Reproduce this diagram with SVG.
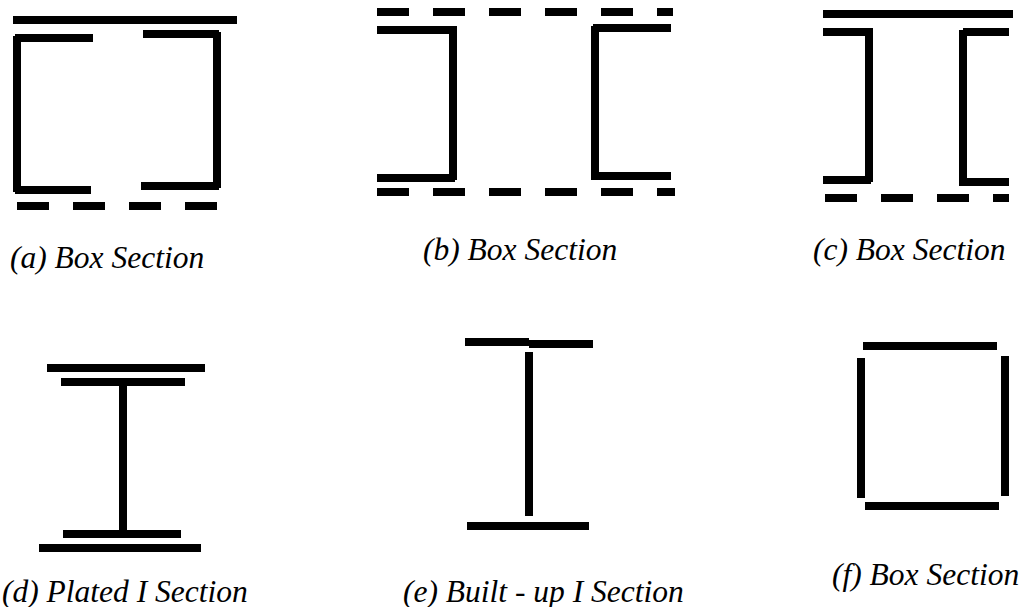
<svg xmlns="http://www.w3.org/2000/svg" width="1024" height="607" viewBox="0 0 1024 607">
<style>
rect.s{fill:#000}
text{font-family:"Liberation Serif","Times New Roman",serif;font-style:italic;font-size:31.5px;fill:#000}
</style>
<rect width="1024" height="607" fill="#fff"/>
<g id="section-a">
<rect class="s" x="13" y="16" width="224" height="8"/>
<rect class="s" x="15" y="34" width="78" height="8"/>
<rect class="s" x="13" y="36" width="8" height="156"/>
<rect class="s" x="15" y="186" width="76" height="8"/>
<rect class="s" x="143" y="30" width="76" height="8"/>
<rect class="s" x="213" y="32" width="8" height="156"/>
<rect class="s" x="141" y="182" width="78" height="8"/>
<rect class="s" x="17" y="202" width="32" height="8"/>
<rect class="s" x="73" y="202" width="32" height="8"/>
<rect class="s" x="129" y="202" width="32" height="8"/>
<rect class="s" x="185" y="202" width="32" height="8"/>
<text x="10" y="268">(a) Box Section</text>
</g>
<g id="section-b">
<rect class="s" x="377" y="8" width="32" height="8"/>
<rect class="s" x="433" y="8" width="32" height="8"/>
<rect class="s" x="489" y="8" width="32" height="8"/>
<rect class="s" x="545" y="8" width="32" height="8"/>
<rect class="s" x="601" y="8" width="32" height="8"/>
<rect class="s" x="657" y="8" width="16" height="8"/>
<rect class="s" x="377" y="26" width="80" height="8"/>
<rect class="s" x="449" y="26" width="8" height="154"/>
<rect class="s" x="377" y="174" width="78" height="8"/>
<rect class="s" x="593" y="24" width="78" height="8"/>
<rect class="s" x="591" y="26" width="8" height="154"/>
<rect class="s" x="591" y="172" width="80" height="8"/>
<rect class="s" x="377" y="188" width="32" height="8"/>
<rect class="s" x="433" y="188" width="32" height="8"/>
<rect class="s" x="489" y="188" width="32" height="8"/>
<rect class="s" x="545" y="188" width="32" height="8"/>
<rect class="s" x="601" y="188" width="32" height="8"/>
<rect class="s" x="657" y="188" width="18" height="8"/>
<text x="423" y="260">(b) Box Section</text>
</g>
<g id="section-c">
<rect class="s" x="823" y="10" width="190" height="8"/>
<rect class="s" x="823" y="28" width="50" height="8"/>
<rect class="s" x="865" y="28" width="8" height="154"/>
<rect class="s" x="823" y="176" width="48" height="8"/>
<rect class="s" x="963" y="28" width="46" height="8"/>
<rect class="s" x="959" y="30" width="8" height="156"/>
<rect class="s" x="959" y="178" width="50" height="8"/>
<rect class="s" x="825" y="194" width="32" height="8"/>
<rect class="s" x="881" y="194" width="32" height="8"/>
<rect class="s" x="937" y="194" width="32" height="8"/>
<rect class="s" x="993" y="194" width="16" height="8"/>
<text x="813" y="260">(c) Box Section</text>
</g>
<g id="section-d">
<rect class="s" x="47" y="364" width="158" height="8"/>
<rect class="s" x="61" y="378" width="124" height="8"/>
<rect class="s" x="119" y="386" width="8" height="144"/>
<rect class="s" x="63" y="530" width="118" height="8"/>
<rect class="s" x="39" y="544" width="162" height="8"/>
<text x="2" y="602">(d) Plated I Section</text>
</g>
<g id="section-e">
<rect class="s" x="465" y="338" width="64" height="8"/>
<rect class="s" x="529" y="340" width="64" height="8"/>
<rect class="s" x="525" y="352" width="8" height="164"/>
<rect class="s" x="467" y="522" width="122" height="8"/>
<text x="403" y="602">(e) Built - up I Section</text>
</g>
<g id="section-f">
<rect class="s" x="863" y="342" width="134" height="8"/>
<rect class="s" x="857" y="358" width="8" height="140"/>
<rect class="s" x="1001" y="356" width="8" height="140"/>
<rect class="s" x="865" y="502" width="134" height="8"/>
<text x="832" y="585">(f) Box Section</text>
</g>
<g id="connectors"/>
</svg>
